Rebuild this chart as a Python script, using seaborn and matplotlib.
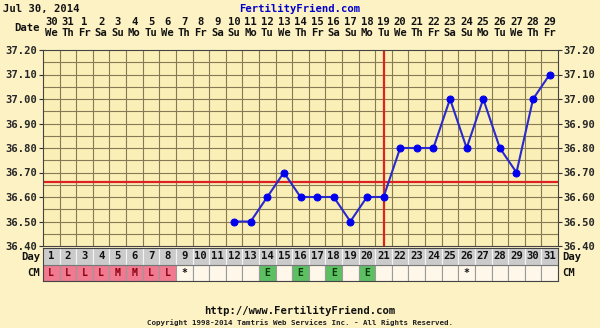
import matplotlib
matplotlib.use("Agg")
import matplotlib.pyplot as plt
import matplotlib.transforms as mtransforms
import seaborn as sns
import numpy as np

# ---- data ----
day_numbers = list(range(1, 32))
date_labels = [30, 31] + list(range(1, 30))
weekday_cycle = ["We", "Th", "Fr", "Sa", "Su", "Mo", "Tu"]
weekday_labels = [weekday_cycle[i % 7] for i in range(31)]
temp_days = list(range(12, 32))
temps = [36.50, 36.50, 36.60, 36.70, 36.60, 36.60, 36.60, 36.50, 36.60, 36.60,
         36.80, 36.80, 36.80, 37.00, 36.80, 37.00, 36.80, 36.70, 37.00, 37.10]
cm_codes = ['L', 'L', 'L', 'L', 'M', 'M', 'L', 'L', '*', '', '', '', '', 'E', '',
            'E', '', 'E', '', 'E', '', '', '', '', '', '*', '', '', '', '', '']
coverline = 36.66
ovulation_day = 21
ytick_vals = [36.40, 36.50, 36.60, 36.70, 36.80, 36.90, 37.00, 37.10, 37.20]
title_date = "Jul 30, 2014"
site = "FertilityFriend.com"
url = "http://www.FertilityFriend.com"
copyright_txt = "Copyright 1998-2014 Tamtris Web Services Inc. - All Rights Reserved."

# ---- style ----
sns.set_style("white")
plt.rcParams['font.family'] = ['DejaVu Sans Mono', 'DejaVu Sans']
plt.rcParams['font.weight'] = 'bold'

BG = "#fdf2c4"
PLOT_BG = "#faefb6"
GRID = "#857a55"
RED = "#dd2222"
BLUE = "#0000ee"
FS = 7.6

W, H = 600, 328
fig = plt.figure(figsize=(W / 100, H / 100), dpi=100, facecolor=BG)

def fx(px):
    return px / W

def fy(py):
    return 1 - py / H

left, right = 43, 558
top, bottom = 50, 246
ax = fig.add_axes([fx(left), fy(bottom), fx(right - left), (bottom - top) / H])
ax.set_facecolor(PLOT_BG)
ax.set_xlim(0.5, 31.5)
ax.set_ylim(36.40, 37.20)

# grid
for xv in np.arange(1.5, 31.5, 1.0):
    ax.axvline(xv, color=GRID, lw=0.8, zorder=1)
for yv in np.arange(36.45, 37.20, 0.05):
    ax.axhline(yv, color=GRID, lw=0.8, zorder=1)

ax.axhline(coverline, color=RED, lw=1.6, zorder=2)
ax.axvline(ovulation_day, color=RED, lw=1.6, zorder=2)

sns.lineplot(x=temp_days, y=temps, ax=ax, color="#2a2acc", lw=1.5, marker='o',
             markersize=5, markerfacecolor=BLUE, markeredgecolor=BLUE, zorder=3)

ax.set_xticks([])
ax.set_yticks(ytick_vals)
ax.set_yticklabels([f"{v:.2f}" for v in ytick_vals])
ax.tick_params(axis='y', left=True, right=True, labelleft=True, labelright=True,
               length=3, width=0.8, color="#333333", labelsize=FS, pad=1)
for lab in ax.get_yticklabels():
    lab.set_fontweight('bold')
ax.set_xlabel("")
ax.set_ylabel("")
for s in ax.spines.values():
    s.set_color("#444444")
    s.set_linewidth(0.8)

# top labels
tr = mtransforms.blended_transform_factory(ax.transData, fig.transFigure)
for d, dl, wl in zip(day_numbers, date_labels, weekday_labels):
    fig.text(d, fy(22), str(dl), transform=tr, ha='center', va='center',
             fontsize=FS, fontweight='bold', color='#111111')
    fig.text(d, fy(33), wl, transform=tr, ha='center', va='center',
             fontsize=FS, fontweight='bold', color='#111111')
fig.text(fx(40), fy(28), "Date", ha='right', va='center', fontsize=FS,
         fontweight='bold', color='#111111')

# header / footer
fig.text(fx(3), fy(9), title_date, ha='left', va='center', fontsize=FS,
         fontweight='bold', color='#111111')
fig.text(fx(300), fy(9), site, ha='center', va='center', fontsize=FS,
         fontweight='bold', color='#0000cc')
fig.text(fx(300), fy(311), url, ha='center', va='center', fontsize=FS,
         fontweight='bold', color='#111111')
fig.text(fx(300), fy(323), copyright_txt, ha='center', va='center', fontsize=5.4,
         fontweight='bold', color='#222222')

# day / CM rows
row_top, row_bot = 248, 281
ax2 = fig.add_axes([fx(left), fy(row_bot), fx(right - left), (row_bot - row_top) / H])
ax2.set_xlim(0.5, 31.5)
ax2.set_ylim(0, 2)
ax2.set_xticks([])
ax2.set_yticks([])
for s in ax2.spines.values():
    s.set_color("#444444")
    s.set_linewidth(0.8)

ax2.bar(day_numbers, [1] * 31, bottom=1, width=1, color="#cbcbcb",
        edgecolor="#f4f4f4", linewidth=0.8)

cm_fill = {'L': "#f07a90", 'M': "#f07a90", 'E': "#5cbf62", '*': "#fff8ea", '': "#fff8ea"}
cm_text = {'L': "#8a0010", 'M': "#8a0010", 'E': "#0a3a0a", '*': "#111111", '': "#111111"}
ax2.bar(day_numbers, [1] * 31, bottom=0, width=1,
        color=[cm_fill[c] for c in cm_codes], edgecolor="#9a9a9a", linewidth=0.8)
ax2.axhline(1, color="#777777", lw=0.8)

for d, c in zip(day_numbers, cm_codes):
    ax2.text(d, 1.5, str(d), ha='center', va='center', fontsize=FS,
             fontweight='bold', color='#111111')
    if c:
        ax2.text(d, 0.5, c, ha='center', va='center', fontsize=FS - 0.6,
                 fontweight='bold', color=cm_text[c])

for lbl, yy in (("Day", 257), ("CM", 273)):
    fig.text(fx(40), fy(yy), lbl, ha='right', va='center', fontsize=FS,
             fontweight='bold', color='#111111')
    fig.text(fx(562), fy(yy), lbl, ha='left', va='center', fontsize=FS,
             fontweight='bold', color='#111111')

fig.savefig("out.png", dpi=100, facecolor=BG)
